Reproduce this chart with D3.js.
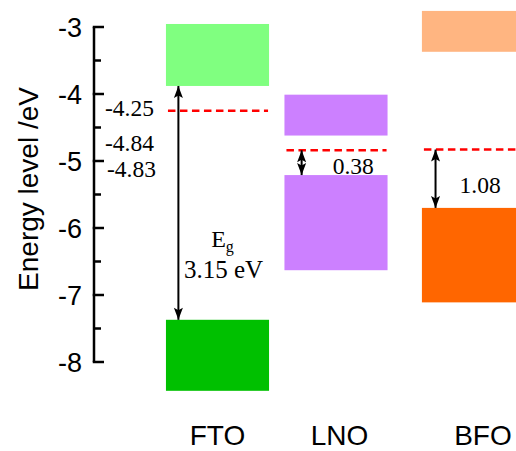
<!DOCTYPE html>
<html>
<head>
<meta charset="utf-8">
<script src="https://cdn.jsdelivr.net/npm/d3@7"></script>
<style>
  body { margin: 0; background: #fff; }
  svg { display: block; }
</style>
</head>
<body>
<svg id="chart" width="516" height="451"></svg>
<script>
// Band-edge diagram: conduction/valence bands and Fermi levels per material
const materials   = ["FTO", "LNO", "BFO"];
const slots       = [1, 2, 3.16];             // category positions on the x axis
const upperTop    = [-2.955, -4.01, -2.76];   // eV
const upperBottom = [-3.88, -4.62, -3.37];
const lowerTop    = [-7.37, -5.21, -5.70];
const lowerBottom = [-8.43, -6.63, -7.11];
const upperColors = ["#80ff80", "#cc80ff", "#ffb581"];
const lowerColors = ["#00c000", "#cc80ff", "#ff6600"];
const fermiLevels = [-4.25, -4.84, -4.83];
const fermiLabels = ["-4.25", "-4.84", "-4.83"];
const gapLabels   = ["0.38", "1.08"];          // LNO, BFO: Fermi level to valence band
const bandGap     = "3.15 eV";                 // FTO
const yTicks      = [-3, -4, -5, -6, -7, -8];
const yMinorTicks = [-3.5, -4.5, -5.5, -6.5, -7.5];

const svg = d3.select("#chart");

const y = d3.scaleLinear().domain([-3, -8]).range([27, 362]);
const x = d3.scaleLinear().domain([0, 4]).range([99, 573]);
const halfW = 0.435;

const serif = "'Liberation Serif', 'Times New Roman', serif";
const sans  = "'Liberation Sans', Arial, sans-serif";

// arrowhead markers (tip at the line end)
const defs = svg.append("defs");
["end", "start"].forEach(kind => {
  defs.append("marker")
    .attr("id", "head-" + kind)
    .attr("viewBox", "-13 -6 14 12")
    .attr("refX", 0).attr("refY", 0)
    .attr("markerWidth", 14).attr("markerHeight", 12)
    .attr("markerUnits", "userSpaceOnUse")
    .attr("orient", kind === "end" ? "auto" : "auto-start-reverse")
    .style("overflow", "visible")
    .append("path")
    .attr("d", "M0,0 L-12,-4.5 L-9.5,0 L-12,4.5 Z")
    .attr("fill", "#000");
});

// bands
const idx = d3.range(materials.length);
svg.append("g").selectAll("rect").data(idx).join("rect")
  .attr("x", i => x(slots[i] - halfW))
  .attr("width", i => x(slots[i] + halfW) - x(slots[i] - halfW))
  .attr("y", i => y(upperTop[i]))
  .attr("height", i => y(upperBottom[i]) - y(upperTop[i]))
  .attr("fill", i => upperColors[i]);
svg.append("g").selectAll("rect").data(idx).join("rect")
  .attr("x", i => x(slots[i] - halfW))
  .attr("width", i => x(slots[i] + halfW) - x(slots[i] - halfW))
  .attr("y", i => y(lowerTop[i]))
  .attr("height", i => y(lowerBottom[i]) - y(lowerTop[i]))
  .attr("fill", i => lowerColors[i]);

// Fermi levels
svg.append("g").selectAll("line").data(idx).join("line")
  .attr("x1", i => x(slots[i] - halfW) + 2)
  .attr("x2", i => x(slots[i] + halfW) - 1)
  .attr("y1", i => y(fermiLevels[i]))
  .attr("y2", i => y(fermiLevels[i]))
  .attr("stroke", "#ff0000")
  .attr("stroke-width", 2.5)
  .attr("stroke-dasharray", "7.5,4.5");

// Fermi level values beside the axis
const fermiDy = [5, 0.5, 27];
svg.append("g").selectAll("text").data(idx).join("text")
  .attr("x", i => i === 2 ? 107 : 105)
  .attr("y", i => y(fermiLevels[i]) + fermiDy[i])
  .attr("font-family", serif)
  .attr("font-size", 23.5)
  .text(i => fermiLabels[i]);

// arrows
const arrowShift = [-0.33, -0.29, -0.32];
const arrows = [
  { i: 0, from: upperBottom[0], to: lowerTop[0] },
  { i: 1, from: fermiLevels[1], to: lowerTop[1] },
  { i: 2, from: fermiLevels[2], to: lowerTop[2] }
];
svg.append("g").selectAll("line").data(arrows).join("line")
  .attr("x1", d => x(slots[d.i] + arrowShift[d.i]))
  .attr("x2", d => x(slots[d.i] + arrowShift[d.i]))
  .attr("y1", d => y(d.from))
  .attr("y2", d => y(d.to))
  .attr("stroke", "#000")
  .attr("stroke-width", 2)
  .attr("marker-start", "url(#head-start)")
  .attr("marker-end", "url(#head-end)");

// gap annotations
svg.append("text")
  .attr("x", x(slots[1] + arrowShift[1]) + 31)
  .attr("y", (y(fermiLevels[1]) + y(lowerTop[1])) / 2 + 11)
  .attr("font-family", serif).attr("font-size", 23.5)
  .text(gapLabels[0]);
svg.append("text")
  .attr("x", x(slots[2] + arrowShift[2]) + 24)
  .attr("y", (y(fermiLevels[2]) + y(lowerTop[2])) / 2 + 14)
  .attr("font-family", serif).attr("font-size", 23.5)
  .text(gapLabels[1]);

const eg = svg.append("text")
  .attr("x", x(slots[0]) + 5)
  .attr("y", 247)
  .attr("text-anchor", "middle")
  .attr("font-family", serif).attr("font-size", 24);
eg.append("tspan").text("E");
eg.append("tspan").attr("font-size", 16).attr("dy", 5).text("g");
svg.append("text")
  .attr("x", x(slots[0]) + 6)
  .attr("y", 278)
  .attr("text-anchor", "middle")
  .attr("font-family", serif).attr("font-size", 25)
  .text(bandGap);

// y axis with inward ticks
const axis = svg.append("g").attr("transform", "translate(94,0)");
axis.append("line")
  .attr("x1", 0).attr("x2", 0)
  .attr("y1", y(-3)).attr("y2", y(-8))
  .attr("stroke", "#000").attr("stroke-width", 2.5);
axis.selectAll("line.major").data(yTicks).join("line")
  .attr("x1", -1.25).attr("x2", 10)
  .attr("y1", d => y(d)).attr("y2", d => y(d))
  .attr("stroke", "#000").attr("stroke-width", 2.5);
axis.selectAll("line.minor").data(yMinorTicks).join("line")
  .attr("x1", 0).attr("x2", 7)
  .attr("y1", d => y(d)).attr("y2", d => y(d))
  .attr("stroke", "#000").attr("stroke-width", 2.5);
axis.selectAll("text").data(yTicks).join("text")
  .attr("x", -12)
  .attr("y", d => y(d))
  .attr("dy", "0.36em")
  .attr("text-anchor", "end")
  .attr("font-family", sans)
  .attr("font-size", 27)
  .text(d => d3.format("d")(d).replace("−", "-"));

svg.append("text")
  .attr("transform", "translate(38,189) rotate(-90)")
  .attr("text-anchor", "middle")
  .attr("font-family", sans)
  .attr("font-size", 28)
  .text("Energy level /eV");

// category labels
const labelShift = [0, 0.03, 0.08];
svg.append("g").selectAll("text").data(idx).join("text")
  .attr("x", i => x(slots[i] + labelShift[i]))
  .attr("y", 445)
  .attr("text-anchor", "middle")
  .attr("font-family", sans)
  .attr("font-size", 28)
  .text(i => materials[i]);
</script>
</body>
</html>
